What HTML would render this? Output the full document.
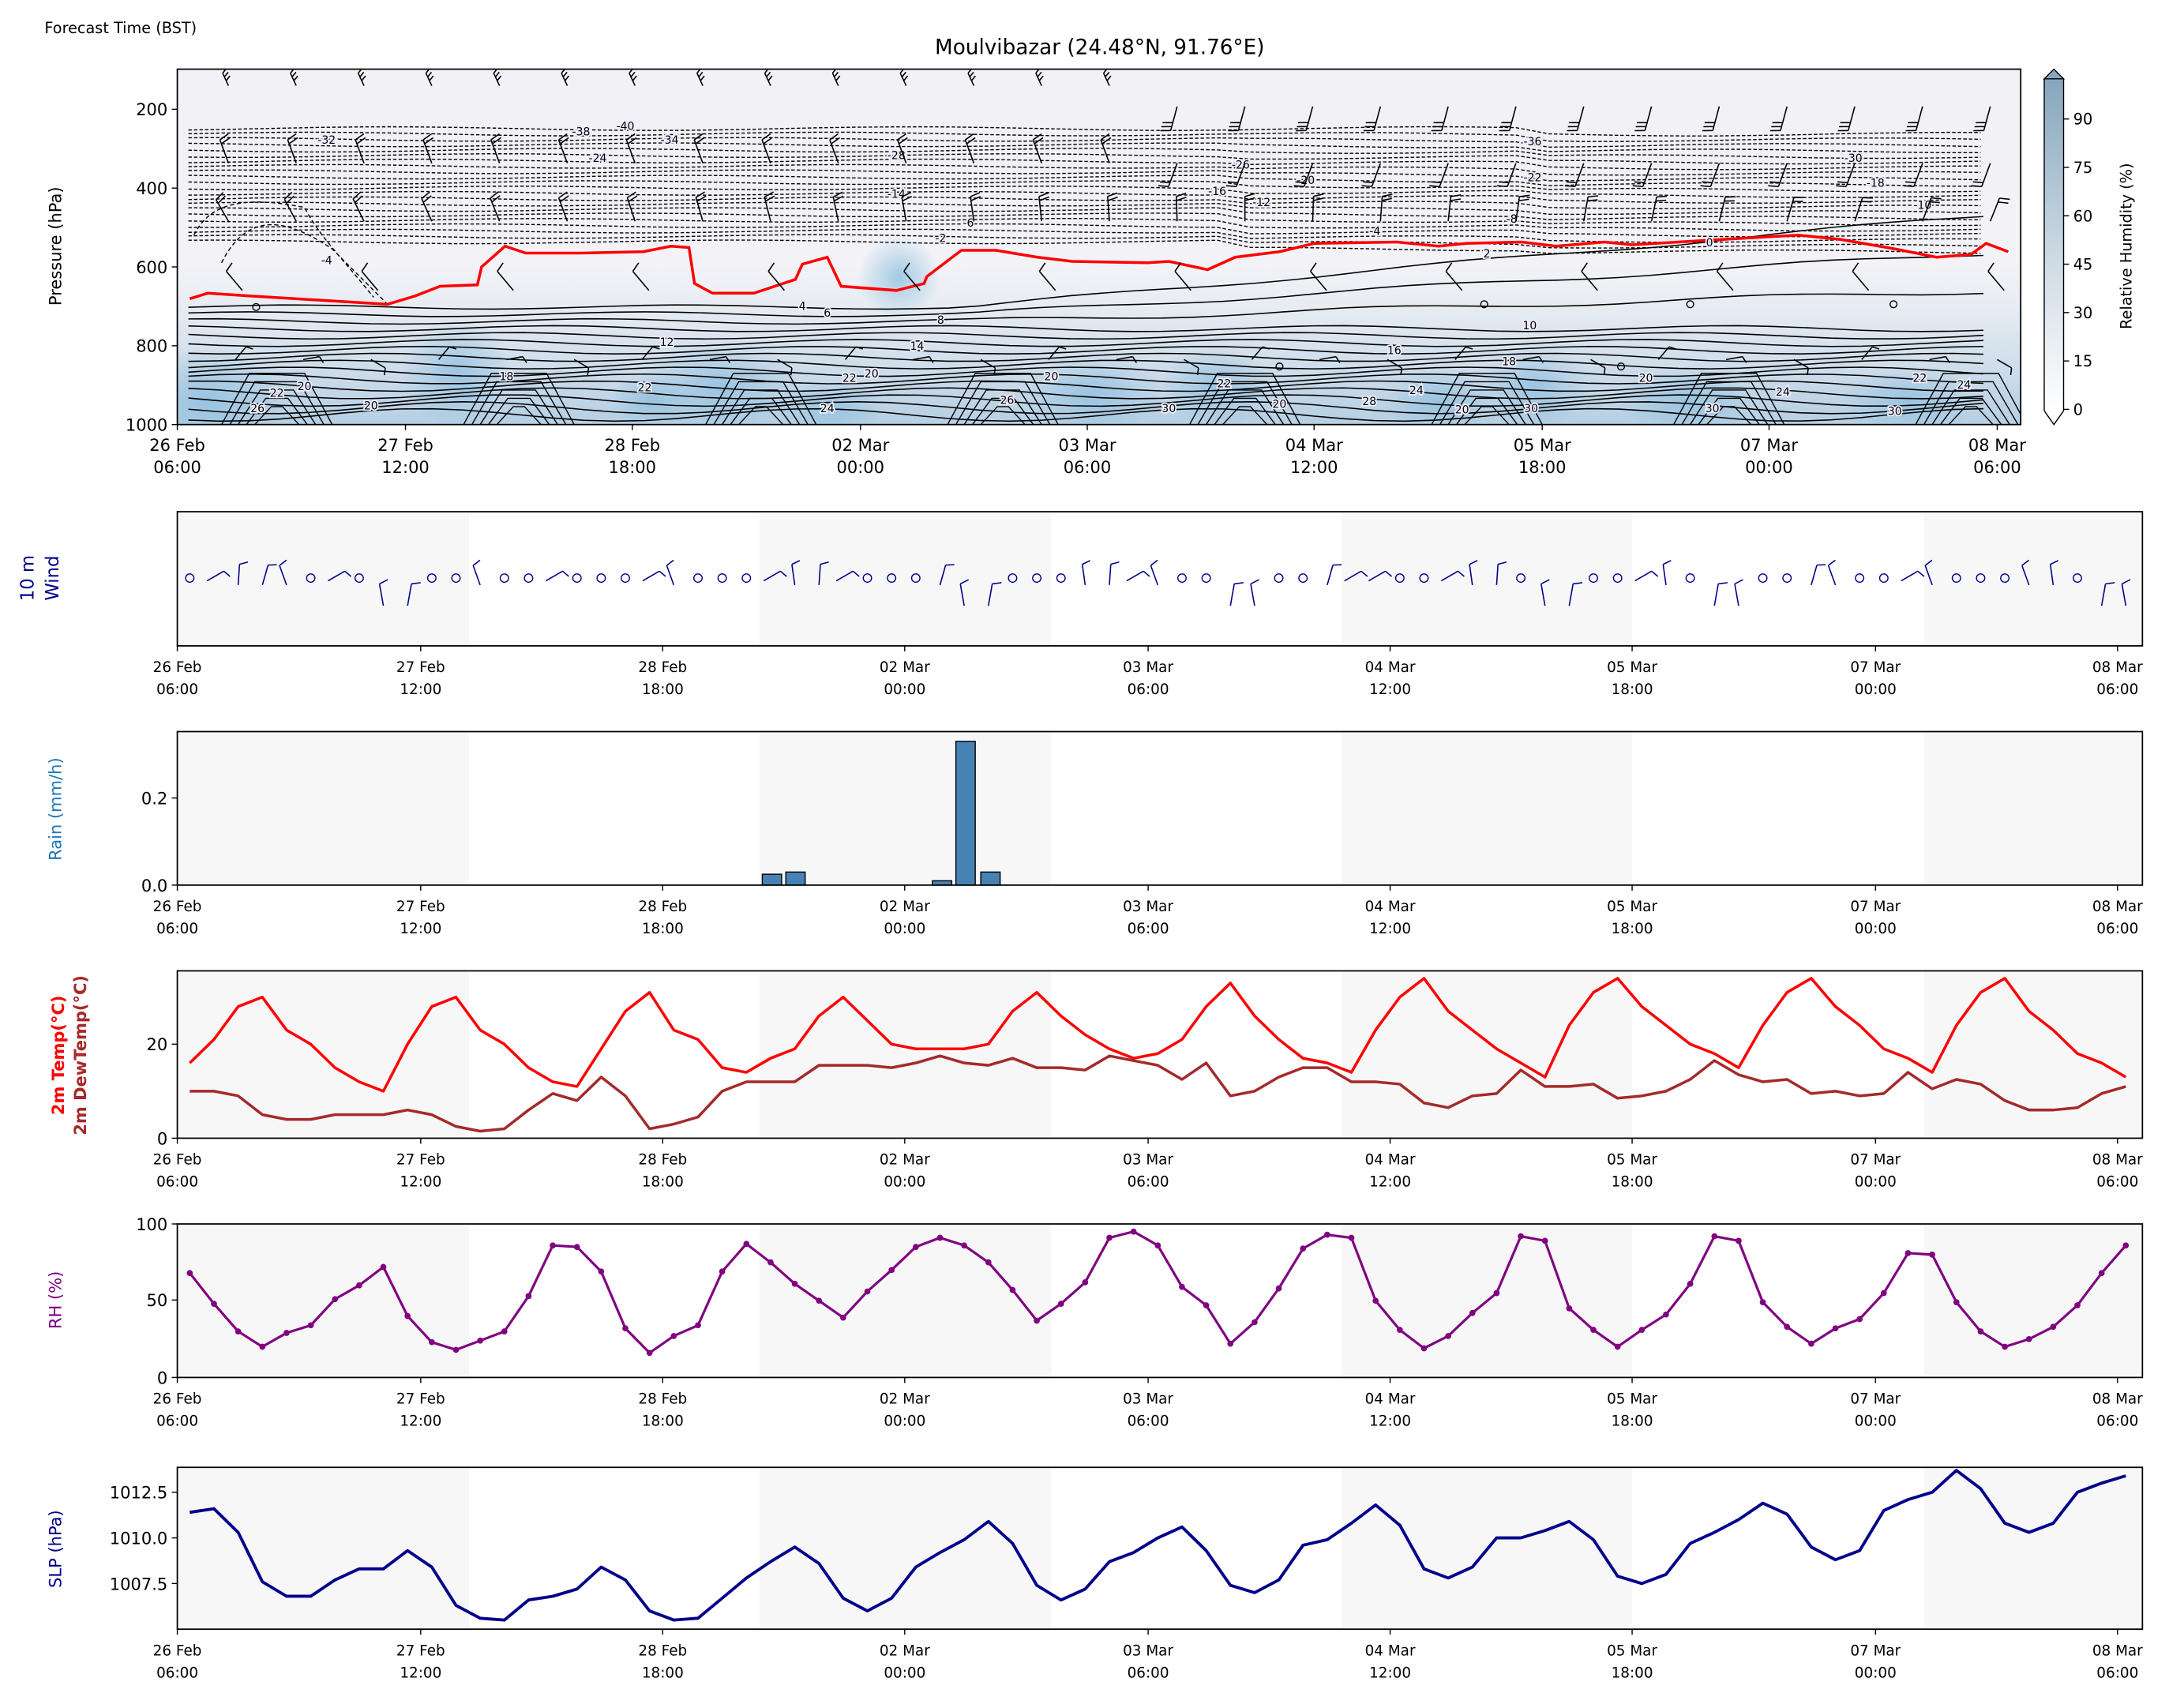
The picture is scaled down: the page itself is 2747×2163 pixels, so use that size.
<!DOCTYPE html>
<html><head><meta charset="utf-8"><style>
html,body{margin:0;padding:0;background:#fff}
svg{display:block}
text{font-family:"DejaVu Sans","Liberation Sans",sans-serif}
</style></head><body>
<svg id="s" width="2747" height="2163" viewBox="0 0 1568 1235" xmlns="http://www.w3.org/2000/svg">
<defs>
<linearGradient id="bg" x1="0" y1="0" x2="0" y2="1">
<stop offset="0" stop-color="#f1f1f6"/><stop offset="0.55" stop-color="#f3f3f7"/><stop offset="0.68" stop-color="#e6ebf2"/><stop offset="0.85" stop-color="#cddceb"/><stop offset="1" stop-color="#b5cfe3"/></linearGradient>
<linearGradient id="cb" x1="0" y1="1" x2="0" y2="0"><stop offset="0" stop-color="#ffffff"/><stop offset="0.5" stop-color="#c9d6e2"/><stop offset="1" stop-color="#86a6bd"/></linearGradient>
<radialGradient id="blob"><stop offset="0" stop-color="#8fbfdf" stop-opacity="0.8"/><stop offset="1" stop-color="#8fbfdf" stop-opacity="0"/></radialGradient>
<clipPath id="cp"><rect x="128" y="50" width="1333" height="257"/></clipPath>
</defs>
<g id="top" clip-path="url(#cp)"></g>
<g id="g"></g>
<text x="32" y="24" font-size="11">Forecast Time (BST)</text>
<text x="795" y="39" font-size="15" text-anchor="middle">Moulvibazar (24.48°N, 91.76°E)</text>
<text transform="translate(44,178) rotate(-90)" font-size="12" text-anchor="middle">Pressure (hPa)</text>
<text transform="translate(1541,178) rotate(-90)" font-size="11" text-anchor="middle">Relative Humidity (%)</text>
<text transform="translate(24,418) rotate(-90)" font-size="13" text-anchor="middle" fill="#00008b">10 m</text>
<text transform="translate(42,418) rotate(-90)" font-size="13" text-anchor="middle" fill="#00008b">Wind</text>
<text transform="translate(44,585) rotate(-90)" font-size="12" text-anchor="middle" fill="#1f77b4">Rain (mm/h)</text>
<text transform="translate(46,763) rotate(-90)" font-size="12" font-weight="bold" text-anchor="middle" fill="#ff0000">2m Temp(°C)</text>
<text transform="translate(62,763) rotate(-90)" font-size="12" font-weight="bold" text-anchor="middle" fill="#a52a2a">2m DewTemp(°C)</text>
<text transform="translate(44,940) rotate(-90)" font-size="12" text-anchor="middle" fill="#800080">RH (%)</text>
<text transform="translate(44,1120) rotate(-90)" font-size="12" text-anchor="middle" fill="#00008b">SLP (hPa)</text>
</svg>
<script>
var NS="http://www.w3.org/2000/svg",G=document.getElementById('top'),G2=document.getElementById('g');
function el(t,a,txt){var e=document.createElementNS(NS,t);for(var k in a)e.setAttribute(k,a[k]);if(txt!=null)e.textContent=txt;G.appendChild(e);return e;}
var X0=137,DX=17.5;function xi(i){return X0+DX*i;}
// ---------- top panel ----------
el('rect',{x:128,y:50,width:1333,height:257,fill:'url(#bg)'});
[[150,290,60,40],[520,280,60,35],[600,295,40,20],[790,285,50,30],[880,280,40,30],[1040,290,40,25],[1110,280,40,30],[1220,290,50,25],[1380,290,50,25],[330,270,40,40],[470,290,30,20],[650,200,30,30]].forEach(function(b){el('ellipse',{cx:b[0],cy:b[1],rx:b[2],ry:b[3],fill:'url(#blob)'});});
// dashed contours
for(var k=0;k<22;k++){var d='';for(var x=136;x<=1452;x+=24){var base=93+k*3.9+(x>900?k*0.25:0)+(x>1100?4-k*0.1:0);var y=base+Math.sin(x/60+k)*1.3;d+=(x==136?'M':'L')+x+','+y.toFixed(1);}el('path',{d:d,fill:'none',stroke:'#000','stroke-width':0.8,'stroke-dasharray':'2.5,1.5'});}
el('path',{d:'M140,170 C150,150 170,140 220,150 C230,170 250,190 270,215',fill:'none',stroke:'#000','stroke-width':0.8,'stroke-dasharray':'3,2'});
el('path',{d:'M160,190 C180,150 210,160 240,180 C260,200 270,210 280,220',fill:'none',stroke:'#000','stroke-width':0.8,'stroke-dasharray':'3,2'});
// solid contours
for(var k=0;k<16;k++){var d='';for(var x=136;x<=1452;x+=22){var y=222+k*5.2+Math.sin(x/45+k*0.7)*(1.5+k*0.2);if(k<3&&x>700)y-=(x-700)*0.03*(3-k);d+=(x==136?'M':'L')+x+','+y.toFixed(1);}el('path',{d:d,fill:'none',stroke:'#000','stroke-width':0.9});}
for(var c=0;c<8;c++){var cx=200+c*175;for(var j=0;j<5;j++){el('path',{d:'M'+(cx-40+j*6)+',307 L'+(cx-20+j*4)+','+(270+j*6)+' L'+(cx+20-j*4)+','+(270+j*6)+' L'+(cx+40-j*6)+',307',fill:'none',stroke:'#000','stroke-width':0.8});}}
// red line
el('path',{d:'M137,216 L150,212 L180,214 L230,217 L280,220 L300,214 L318,207 L345,206 L348,193 L365,178 L380,183 L420,183 L465,182 L485,178 L498,179 L502,205 L515,212 L545,212 L575,202 L580,191 L598,186 L608,207 L648,210 L668,205 L670,200 L695,181 L720,181 L750,186 L775,189 L830,190 L845,189 L873,195 L893,186 L925,182 L950,176 L1010,175 L1040,178 L1060,176 L1100,175 L1125,178 L1160,175 L1180,177 L1230,174 L1300,170 L1330,173 L1370,180 L1400,186 L1425,184 L1436,176 L1452,182',fill:'none',stroke:'#ff0000','stroke-width':2});
[[236,104,'-32'],[420,98,'-38'],[452,94,'-40'],[484,104,'-34'],[432,117,'-24'],[648,115,'-28'],[648,143,'-14'],[897,122,'-26'],[944,133,'-20'],[880,141,'-16'],[912,149,'-12'],[1108,105,'-36'],[1108,131,'-22'],[1340,117,'-30'],[1356,135,'-18'],[1390,151,'-10'],[700,164,'-6'],[680,175,'-2'],[994,170,'-4'],[1093,161,'-8'],[236,191,'-4'],[1236,178,'0'],[1075,186,'2'],[580,224,'4'],[598,229,'6'],[680,234,'8'],[1106,238,'10'],[482,250,'12'],[663,253,'14'],[1008,256,'16'],[1091,264,'18'],[366,275,'18'],[220,282,'20'],[466,283,'22'],[200,287,'22'],[760,275,'20'],[1190,276,'20'],[1388,276,'22'],[598,298,'24'],[885,280,'22'],[1024,285,'24'],[630,273,'20'],[614,276,'22'],[186,298,'26'],[268,296,'20'],[990,293,'28'],[925,295,'20'],[1057,299,'20'],[1238,298,'30'],[1370,300,'30'],[1107,298,'30'],[728,292,'26'],[1289,286,'24'],[1420,281,'24'],[845,298,'30']].forEach(function(t){el('text',{x:t[0],y:t[1],'font-size':8,'text-anchor':'middle'},t[2]).setAttribute('style','paint-order:stroke;stroke:#eef;stroke-width:2px');});
function barb(x,y,ang,n,len,col,w){var a=ang*Math.PI/180,dx=Math.sin(a),dy=-Math.cos(a);var x2=x+dx*len,y2=y+dy*len;var d='M'+x+','+y+' L'+x2.toFixed(1)+','+y2.toFixed(1);for(var i=0;i<n;i++){var bx=x2-dx*i*3,by=y2-dy*i*3;d+=' M'+bx.toFixed(1)+','+by.toFixed(1)+' l'+(-dy*len*0.4+dx*2).toFixed(1)+','+(dx*len*0.4+dy*2).toFixed(1);}el('path',{d:d,fill:'none',stroke:col,'stroke-width':w||1});}
for(var i=0;i<27;i++){var x=165+i*49;
 barb(x,i<14?62:77,i<14?-25:195,3,i<14?10:18,'#000',0.9);
 barb(x,118,i<14?-20:200,2,18,'#000',0.9);
 barb(x,160,-30+i*2,2,18,'#000',0.9);
 if(i%2==0)barb(x+10,210,-40,1,18,'#000',0.9);
 barb(x+5,260,40+(i%3)*40,1,12,'#000',0.9);}
[[185,222],[1073,220],[1222,220],[1369,220],[925,265],[1172,265]].forEach(function(c){el('circle',{cx:c[0],cy:c[1],r:2.5,fill:'none',stroke:'#000','stroke-width':0.8});});
G=G2;
el('rect',{x:128,y:50,width:1333,height:257,fill:'none',stroke:'#000','stroke-width':1});
el('rect',{x:1478,y:57,width:14,height:240,fill:'url(#cb)',stroke:'none'});
el('path',{d:'M1478,57 L1485,50 L1492,57 Z',fill:'#86a6bd',stroke:'#000','stroke-width':0.8});
el('path',{d:'M1478,297 L1485,307 L1492,297',fill:'#fff',stroke:'#000','stroke-width':0.8});
el('path',{d:'M1478,57 L1478,297 M1492,57 L1492,297',stroke:'#000','stroke-width':0.8});
[0,15,30,45,60,75,90].forEach(function(v){var y=296-v*2.333;el('line',{x1:1492,x2:1496,y1:y,y2:y,stroke:'#000','stroke-width':0.8});el('text',{x:1499,y:y+4,'font-size':11},v);});
[[200,79],[400,136],[600,193],[800,250],[1000,307]].forEach(function(t){el('line',{x1:124,x2:128,y1:t[1],y2:t[1],stroke:'#000','stroke-width':0.8});el('text',{x:121,y:t[1]+4.5,'font-size':12,'text-anchor':'end'},t[0]);});
var labs=[['26 Feb','06:00'],['27 Feb','12:00'],['28 Feb','18:00'],['02 Mar','00:00'],['03 Mar','06:00'],['04 Mar','12:00'],['05 Mar','18:00'],['07 Mar','00:00'],['08 Mar','06:00']];
function xt(xs,yb,fs){xs.forEach(function(x,i){el('line',{x1:x,x2:x,y1:yb,y2:yb+4,stroke:'#000','stroke-width':0.8});el('text',{x:x,y:yb+19,'font-size':fs,'text-anchor':'middle'},labs[i][0]);el('text',{x:x,y:yb+35,'font-size':fs,'text-anchor':'middle'},labs[i][1]);});}
xt([128,293,457,622,786,950,1115,1279,1444],307,12);
var XS=[128,304,479,654,830,1005,1180,1356,1531];
function panel(y0,y1){el('rect',{x:128,y:y0,width:1421,height:y1-y0,fill:'#fff'});[[128,339],[549,760],[970,1180],[1391,1549]].forEach(function(b){el('rect',{x:b[0],y:y0,width:b[1]-b[0],height:y1-y0,fill:'#f7f7f7'});});}
function frame(y0,y1){el('rect',{x:128,y:y0,width:1421,height:y1-y0,fill:'none',stroke:'#000','stroke-width':1});xt(XS,y1,10.5);}
function yt(y,l){el('line',{x1:124,x2:128,y1:y,y2:y,stroke:'#000','stroke-width':0.8});el('text',{x:121,y:y+4.5,'font-size':12,'text-anchor':'end'},l);}
panel(370,467);
var pat=[0,1,2,2,2,0,1,0,3,3,0,0,2,0,0,1,0,0,0,1,2,0,0,0,1,2,2,1,0,0,0,2,3,3,0,0,0,2,2,1,2,0,0,3,3,0,0,2,1,1,0,0,1,2,2,0,3,3,0,0,1,2,0,3,3,0,0,2,2,0,0,1,2,0,0,0,2,2,0,3,3];
for(var i=0;i<81;i++){var x=xi(i),t=pat[i];if(t==0)el('circle',{cx:x,cy:418,r:3,fill:'none',stroke:'#00008b','stroke-width':0.8});else if(t==1)barb(x-5,420,60,1,14,'#00008b',0.9);else if(t==2)barb(x,423,-20+(i%4)*12,1,15,'#00008b',0.9);else barb(x,438,(i%2?10:-10),1,16,'#00008b',0.9);}
frame(370,467);
panel(529,640);
[[558,0.025],[575,0.03],[681,0.01],[698,0.33],[716,0.03]].forEach(function(b){var h=b[1]*315;el('rect',{x:b[0]-7,y:640-h,width:14,height:h,fill:'#4682b4',stroke:'#000','stroke-width':0.8});});
yt(640,'0.0');yt(577,'0.2');frame(529,640);
panel(702,823);
var T=[16,21,28,30,23,20,15,12,10,20,28,30,23,20,15,12,11,19,27,31,23,21,15,14,17,19,26,30,25,20,19,19,19,20,27,31,26,22,19,17,18,21,28,33,26,21,17,16,14,23,30,34,27,23,19,16,13,24,31,34,28,24,20,18,15,24,31,34,28,24,19,17,14,24,31,34,27,23,18,16,13];
var D=[10,10,9,5,4,4,5,5,5,6,5,2.5,1.5,2,6,9.5,8,13,9,2,3,4.5,10,12,12,12,15.5,15.5,15.5,15,16,17.5,16,15.5,17,15,15,14.5,17.5,16.5,15.5,12.5,16,9,10,13,15,15,12,12,11.5,7.5,6.5,9,9.5,14.5,11,11,11.5,8.5,9,10,12.5,16.5,13.5,12,12.5,9.5,10,9,9.5,14,10.5,12.5,11.5,8,6,6,6.5,9.5,11];
function line(arr,f,col,w,dots){var d='';arr.forEach(function(v,i){d+=(i?'L':'M')+xi(i).toFixed(1)+','+f(v).toFixed(1);});el('path',{d:d,fill:'none',stroke:col,'stroke-width':w,'stroke-linejoin':'round'});if(dots)arr.forEach(function(v,i){el('circle',{cx:xi(i),cy:f(v),r:2.2,fill:col});});}
line(T,function(v){return 823-v*3.4;},'#ff0000',2);
line(D,function(v){return 823-v*3.4;},'#a52a2a',2);
yt(823,'0');yt(755,'20');frame(702,823);
panel(885,996);
var R=[68,48,30,20,29,34,51,60,72,40,23,18,24,30,53,86,85,69,32,16,27,34,69,87,75,61,50,39,56,70,85,91,86,75,57,37,48,62,91,95,86,59,47,22,36,58,84,93,91,50,31,19,27,42,55,92,89,45,31,20,31,41,61,92,89,49,33,22,32,38,55,81,80,49,30,20,25,33,47,68,86];
line(R,function(v){return 996-v*1.11;},'#800080',1.8,true);
yt(996,'0');yt(940,'50');yt(885,'100');frame(885,996);
panel(1061,1178);
var S=[1011.4,1011.6,1010.3,1007.6,1006.8,1006.8,1007.7,1008.3,1008.3,1009.3,1008.4,1006.3,1005.6,1005.5,1006.6,1006.8,1007.2,1008.4,1007.7,1006.0,1005.5,1005.6,1006.7,1007.8,1008.7,1009.5,1008.6,1006.7,1006.0,1006.7,1008.4,1009.2,1009.9,1010.9,1009.7,1007.4,1006.6,1007.2,1008.7,1009.2,1010.0,1010.6,1009.3,1007.4,1007.0,1007.7,1009.6,1009.9,1010.8,1011.8,1010.7,1008.3,1007.8,1008.4,1010.0,1010.0,1010.4,1010.9,1009.9,1007.9,1007.5,1008.0,1009.7,1010.3,1011.0,1011.9,1011.3,1009.5,1008.8,1009.3,1011.5,1012.1,1012.5,1013.7,1012.7,1010.8,1010.3,1010.8,1012.5,1013.0,1013.4];
line(S,function(v){return 1112-(v-1010)*13.2;},'#00008b',2.2);
yt(1145,'1007.5');yt(1112,'1010.0');yt(1079,'1012.5');frame(1061,1178);
</script>
</body></html>
